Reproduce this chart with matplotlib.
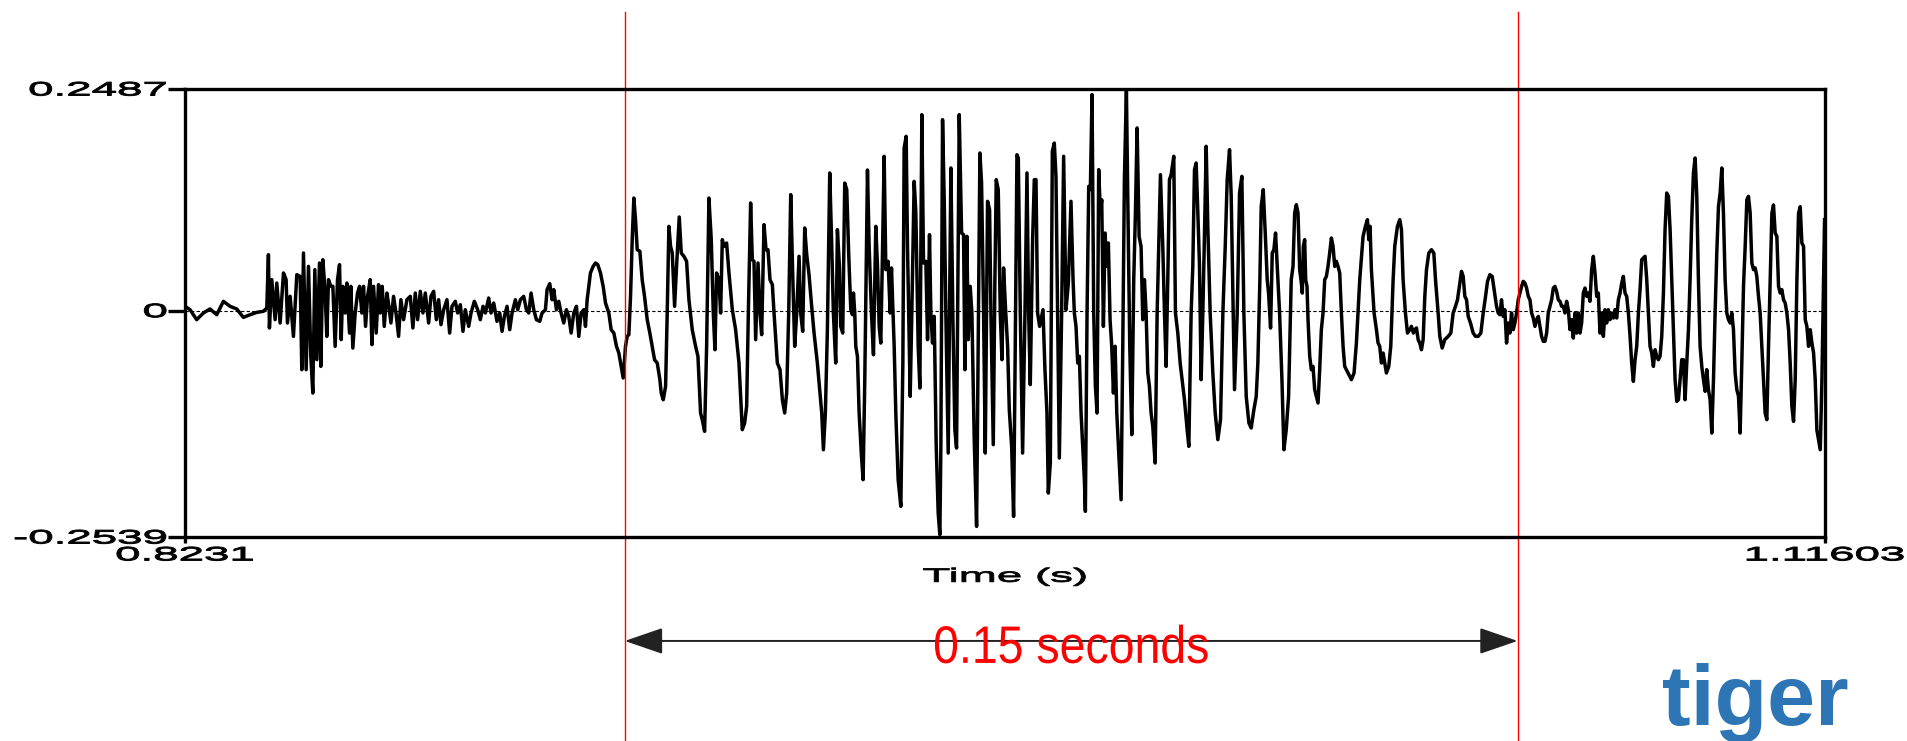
import numpy as np
import matplotlib
matplotlib.use("Agg")
import matplotlib.pyplot as plt
from matplotlib.patheffects import AbstractPathEffect
from matplotlib.transforms import Affine2D
from matplotlib.path import Path

### data : (time s, amplitude)

closure = [(0.82310, 0.0049), (0.82400, 0.0011), (0.82519, -0.0101), (0.82638, -0.0026), (0.82757, 0.0019),
           (0.82877, -0.0045), (0.82996, 0.0105), (0.83115, 0.0049), (0.83234, 0.0019), (0.83353, -0.0075),
           (0.83473, -0.0045), (0.83592, -0.0019), (0.83711, -0.0007), (0.83771, 0.0030)]

burst = [(0.83800, 0.0628), (0.83818, -0.0194), (0.83860, 0.0348), (0.83920, -0.0101), (0.83949, 0.0310),
         (0.84009, -0.0138), (0.84069, 0.0423), (0.84116, 0.0348), (0.84140, -0.0138), (0.84188, 0.0161),
         (0.84247, -0.0288), (0.84307, 0.0404), (0.84367, 0.0385), (0.84396, -0.0662), (0.84426, 0.0647),
         (0.84474, -0.0662), (0.84516, 0.0497), (0.84557, -0.0512), (0.84593, -0.0924), (0.84629, 0.0460),
         (0.84665, -0.0550), (0.84712, 0.0535), (0.84736, -0.0625), (0.84772, 0.0572), (0.84814, 0.0198),
         (0.84843, -0.0288), (0.84873, 0.0348), (0.84915, 0.0273), (0.84951, 0.0273), (0.84992, -0.0400),
         (0.85034, 0.0348), (0.85070, 0.0516), (0.85100, -0.0325), (0.85129, 0.0273), (0.85171, -0.0026),
         (0.85201, 0.0310), (0.85249, -0.0251), (0.85272, 0.0273), (0.85308, -0.0419), (0.85350, -0.0026),
         (0.85392, 0.0198), (0.85428, 0.0273), (0.85469, -0.0026), (0.85499, 0.0273), (0.85535, -0.0176),
         (0.85571, 0.0161), (0.85618, 0.0348), (0.85648, -0.0381), (0.85678, 0.0273), (0.85725, -0.0251),
         (0.85767, 0.0292), (0.85797, -0.0026), (0.85833, 0.0273), (0.85869, -0.0176), (0.85916, 0.0198),
         (0.85952, 0.0049), (0.85988, -0.0138), (0.86035, 0.0161), (0.86083, -0.0045), (0.86125, -0.0288),
         (0.86166, 0.0123), (0.86214, -0.0101), (0.86274, 0.0123)]

aspiration = [(0.86334, 0.0161), (0.86381, -0.0194), (0.86423, 0.0198), (0.86465, -0.0101), (0.86513, 0.0217),
              (0.86560, -0.0026), (0.86602, 0.0198), (0.86662, -0.0138), (0.86703, 0.0161), (0.86751, 0.0217),
              (0.86799, -0.0101), (0.86840, 0.0123), (0.86882, -0.0157), (0.86930, 0.0011), (0.86989, 0.0123),
              (0.87037, -0.0251), (0.87079, 0.0049), (0.87138, 0.0105), (0.87180, -0.0026), (0.87228, 0.0067),
              (0.87275, -0.0232), (0.87317, 0.0011), (0.87377, -0.0176), (0.87419, -0.0026), (0.87478, 0.0105),
              (0.87538, 0.0011), (0.87585, -0.0101), (0.87633, 0.0049), (0.87675, -0.0026), (0.87734, 0.0142),
              (0.87776, -0.0026), (0.87824, 0.0086), (0.87883, -0.0120), (0.87931, -0.0026), (0.87973, -0.0232),
              (0.88015, -0.0064), (0.88062, 0.0049), (0.88110, -0.0213), (0.88152, -0.0026), (0.88211, 0.0123),
              (0.88253, 0.0011), (0.88301, 0.0123), (0.88360, 0.0161), (0.88408, 0.0011), (0.88450, -0.0026),
              (0.88491, 0.0198), (0.88539, 0.0011), (0.88587, -0.0101), (0.88646, -0.0120), (0.88688, -0.0026),
              (0.88748, 0.0011), (0.88777, 0.0236), (0.88825, 0.0303), (0.88867, 0.0123), (0.88897, 0.0236),
              (0.88944, 0.0011), (0.88986, 0.0105), (0.89028, -0.0026), (0.89075, -0.0138), (0.89123, 0.0011),
              (0.89165, -0.0064), (0.89207, -0.0251), (0.89254, -0.0026), (0.89302, 0.0049), (0.89344, -0.0288),
              (0.89385, -0.0026), (0.89433, 0.0011), (0.89463, -0.0176), (0.89493, 0.0123)]

vowel_onset = [(0.89552, 0.0423), (0.89600, 0.0497), (0.89642, 0.0535), (0.89683, 0.0516), (0.89731, 0.0423),
               (0.89779, 0.0273), (0.89821, 0.0086), (0.89880, -0.0026), (0.89922, -0.0213), (0.89970, -0.0251),
               (0.90017, -0.0400), (0.90059, -0.0475), (0.90101, -0.0625), (0.90137, -0.0755), (0.90178, -0.0400),
               (0.90208, -0.0288), (0.90238, -0.0269), (0.90268, 0.0161), (0.90298, 0.0797), (0.90327, 0.1264),
               (0.90357, 0.1021), (0.90387, 0.0684), (0.90435, 0.0666), (0.90476, 0.0348), (0.90518, 0.0161),
               (0.90566, -0.0101), (0.90613, -0.0251), (0.90655, -0.0400), (0.90697, -0.0550), (0.90745, -0.0587),
               (0.90792, -0.0774), (0.90816, -0.0924), (0.90852, -0.0999), (0.90894, -0.0849), (0.90923, -0.0026),
               (0.90953, 0.0946), (0.90983, 0.0722), (0.91013, 0.0647), (0.91055, 0.0049), (0.91090, 0.0497),
               (0.91138, 0.1051), (0.91174, 0.0647), (0.91221, 0.0610), (0.91269, 0.0554), (0.91311, 0.0123),
               (0.91370, -0.0213), (0.91430, -0.0400), (0.91472, -0.0512), (0.91519, -0.1148), (0.91549, -0.1223),
               (0.91591, -0.1354), (0.91627, -0.0400), (0.91668, 0.1264), (0.91710, 0.0797), (0.91746, -0.0026),
               (0.91776, -0.0438), (0.91805, 0.0423), (0.91847, 0.0348), (0.91877, -0.0026), (0.91907, 0.0797),
               (0.91937, 0.0722), (0.91984, 0.0759), (0.92026, 0.0423), (0.92086, 0.0011), (0.92145, -0.0213),
               (0.92205, -0.0587), (0.92264, -0.1335), (0.92306, -0.1260), (0.92342, -0.1073), (0.92372, -0.0026),
               (0.92413, 0.1208), (0.92443, 0.0572), (0.92473, 0.0554), (0.92503, -0.0325), (0.92545, 0.0535),
               (0.92580, -0.0026), (0.92610, -0.0269), (0.92652, 0.0965), (0.92688, 0.0684), (0.92723, 0.0684),
               (0.92759, 0.0348), (0.92801, 0.0292), (0.92831, -0.0026), (0.92890, -0.0587), (0.92938, -0.0662),
               (0.92980, -0.0999), (0.93021, -0.1148), (0.93057, -0.0924), (0.93093, -0.0026), (0.93129, 0.1302),
               (0.93164, 0.0423), (0.93200, -0.0400), (0.93236, -0.0026), (0.93278, 0.0610), (0.93307, -0.0026),
               (0.93343, -0.0232), (0.93379, 0.0928), (0.93415, 0.0628), (0.93456, 0.0404), (0.93498, 0.0086),
               (0.93546, -0.0251), (0.93605, -0.0587), (0.93653, -0.0924), (0.93683, -0.1148), (0.93713, -0.1560),
               (0.93748, -0.1148), (0.93784, -0.0213), (0.93826, 0.1545), (0.93862, 0.0722), (0.93891, -0.0026),
               (0.93933, -0.0587), (0.93963, 0.0909), (0.93999, 0.0497), (0.94022, -0.0176), (0.94058, -0.0251),
               (0.94094, 0.1432), (0.94130, 0.1358), (0.94166, 0.0610)]

vowel_mid = [(0.94202, 0.0011), (0.94232, -0.0045), (0.94250, 0.0198), (0.94273, -0.0026), (0.94291, -0.0400),
             (0.94321, -0.0512), (0.94351, -0.1148), (0.94393, -0.1634), (0.94422, -0.1896), (0.94452, -0.0774),
             (0.94500, 0.1578), (0.94530, 0.0722), (0.94571, -0.0026), (0.94607, -0.0494), (0.94649, 0.0946),
             (0.94679, 0.0497), (0.94709, -0.0176), (0.94738, -0.0363), (0.94768, 0.0647), (0.94798, 0.1732),
             (0.94828, 0.0460), (0.94869, 0.0554), (0.94905, -0.0026), (0.94929, 0.0479), (0.94977, -0.0400),
             (0.95006, -0.1148), (0.95048, -0.1896), (0.95096, -0.2195), (0.95132, -0.0587), (0.95155, 0.1825),
             (0.95191, 0.1956), (0.95215, 0.0722), (0.95263, -0.0961), (0.95292, -0.0026), (0.95334, 0.1451),
             (0.95364, 0.1096), (0.95406, -0.0400), (0.95436, -0.0868), (0.95471, 0.2199), (0.95501, 0.0535),
             (0.95543, 0.0554), (0.95573, -0.0325), (0.95608, 0.0853), (0.95632, -0.0026), (0.95662, -0.0363),
             (0.95692, -0.0064), (0.95728, -0.1522), (0.95763, -0.2270), (0.95793, -0.2513), (0.95811, -0.1522),
             (0.95841, 0.2143), (0.95871, 0.1245), (0.95900, -0.0026), (0.95942, -0.1597), (0.95990, 0.1601),
             (0.96026, -0.0101), (0.96061, -0.1335), (0.96091, -0.1541), (0.96139, 0.2199), (0.96181, 0.0871),
             (0.96216, 0.0853), (0.96240, -0.0662), (0.96276, 0.0834), (0.96300, -0.0325), (0.96335, 0.0273),
             (0.96365, -0.0026), (0.96407, -0.1447), (0.96449, -0.2420), (0.96479, -0.0251), (0.96508, 0.1769),
             (0.96538, 0.1432), (0.96574, -0.0026), (0.96604, -0.1597), (0.96645, 0.1227), (0.96681, 0.1133),
             (0.96705, -0.0026), (0.96747, -0.1503), (0.96776, 0.0348), (0.96800, 0.1470), (0.96836, 0.1358),
             (0.96872, -0.0026), (0.96902, -0.0550), (0.96931, 0.0479), (0.96967, 0.0011), (0.97003, -0.0400),
             (0.97033, -0.1111), (0.97075, -0.1522), (0.97110, -0.2308), (0.97134, -0.0774), (0.97170, 0.1750),
             (0.97194, 0.1713), (0.97230, -0.0026), (0.97271, -0.1597), (0.97313, -0.0026), (0.97349, 0.1545),
             (0.97379, -0.0026), (0.97408, -0.0830), (0.97450, 0.0797), (0.97480, 0.1470), (0.97510, 0.1470),
             (0.97539, -0.0026), (0.97575, -0.0176), (0.97599, -0.0101), (0.97635, 0.0011), (0.97670, -0.0662),
             (0.97706, -0.1148), (0.97730, -0.2046), (0.97766, -0.1709), (0.97802, 0.1788), (0.97837, 0.1881),
             (0.97867, 0.1507), (0.97897, -0.0026), (0.97927, -0.1653), (0.97969, 0.0011), (0.98004, 0.1732),
             (0.98046, 0.0011), (0.98088, 0.0310), (0.98135, 0.1227)]

vowel_late = [(0.98172, 0.0348), (0.98195, -0.0026), (0.98225, -0.0176), (0.98255, -0.0587), (0.98285, -0.0512),
              (0.98315, -0.1148), (0.98344, -0.1522), (0.98374, -0.1896), (0.98392, -0.2251), (0.98422, -0.0026),
              (0.98452, 0.1395), (0.98481, 0.1358), (0.98511, 0.2424), (0.98541, -0.0026), (0.98571, -0.0849),
              (0.98601, -0.1148), (0.98630, 0.1582), (0.98660, 0.1096), (0.98684, 0.1245), (0.98714, -0.0176),
              (0.98744, 0.0871), (0.98774, 0.0497), (0.98803, 0.0759), (0.98833, -0.0101), (0.98863, -0.0400),
              (0.98893, -0.0924), (0.98923, -0.0400), (0.98953, -0.1148), (0.98982, -0.1522), (0.99030, -0.2121),
              (0.99060, -0.0400), (0.99089, 0.1470), (0.99125, 0.2480), (0.99149, 0.1283), (0.99185, -0.0400),
              (0.99221, -0.1391), (0.99256, 0.0348), (0.99286, 0.1096), (0.99316, 0.2050), (0.99352, 0.0834),
              (0.99387, 0.0718), (0.99417, -0.0101), (0.99447, 0.0348), (0.99477, -0.0026), (0.99507, -0.0699),
              (0.99536, -0.0849), (0.99566, -0.1148), (0.99596, -0.1298), (0.99638, -0.1709), (0.99674, -0.0026),
              (0.99733, 0.1526), (0.99775, 0.0718), (0.99805, -0.0026), (0.99834, -0.0625), (0.99864, 0.0348),
              (0.99894, 0.1470), (0.99924, 0.1526), (0.99971, 0.1732), (1.00001, -0.0026), (1.00043, -0.0251),
              (1.00085, -0.0587), (1.00120, -0.0774), (1.00162, -0.0999), (1.00210, -0.1335), (1.00240, -0.1522),
              (1.00281, -0.0026), (1.00311, 0.0497), (1.00341, 0.1582), (1.00371, 0.1657), (1.00401, 0.1096),
              (1.00430, 0.0516), (1.00460, -0.0774), (1.00490, -0.0026), (1.00520, 0.0871), (1.00550, 0.1844),
              (1.00579, 0.0946), (1.00621, -0.0026), (1.00669, -0.0699), (1.00711, -0.1148), (1.00758, -0.1447),
              (1.00806, -0.1223), (1.00848, -0.0026), (1.00890, 0.0718), (1.00925, 0.1470), (1.00967, 0.1806),
              (1.00997, 0.1283), (1.01056, -0.0886), (1.01104, -0.0026), (1.01146, 0.1320), (1.01187, 0.1507),
              (1.01223, -0.0026), (1.01265, -0.0961), (1.01313, -0.1260), (1.01354, -0.1316), (1.01402, -0.1111),
              (1.01444, -0.0961), (1.01473, -0.0587), (1.01509, 0.0348), (1.01533, 0.1171), (1.01569, 0.1358),
              (1.01605, 0.0871), (1.01640, 0.0348), (1.01664, 0.0198), (1.01700, -0.0194), (1.01730, 0.0647),
              (1.01759, 0.0684), (1.01789, 0.0871), (1.01819, 0.0497), (1.01861, -0.0026), (1.01903, -0.0774),
              (1.01938, -0.1560), (1.01980, -0.1335), (1.02022, -0.0961), (1.02069, 0.0348)]

vowel_decay = [(1.02101, 0.0497), (1.02130, 0.1096), (1.02160, 0.1189), (1.02190, 0.1096), (1.02220, 0.0460),
               (1.02250, 0.0310), (1.02267, 0.0198), (1.02285, 0.0722), (1.02309, 0.0797), (1.02327, 0.0348),
               (1.02351, 0.0273), (1.02369, -0.0101), (1.02399, -0.0512), (1.02428, -0.0662), (1.02458, -0.0625),
               (1.02488, -0.0886), (1.02518, -0.0961), (1.02548, -0.1036), (1.02577, -0.0662), (1.02607, -0.0213),
               (1.02637, -0.0026), (1.02667, 0.0348), (1.02697, 0.0385), (1.02726, 0.0497), (1.02756, 0.0647),
               (1.02786, 0.0815), (1.02816, 0.0722), (1.02846, 0.0497), (1.02875, 0.0554), (1.02905, 0.0497),
               (1.02935, 0.0423), (1.02965, -0.0026), (1.02995, -0.0400), (1.03024, -0.0625), (1.03084, -0.0699),
               (1.03144, -0.0774), (1.03191, -0.0699), (1.03233, -0.0363), (1.03293, 0.0348), (1.03352, 0.0834),
               (1.03394, 0.0946), (1.03430, 0.1021), (1.03454, 0.0797), (1.03477, 0.0946), (1.03501, 0.0460),
               (1.03549, -0.0026), (1.03591, -0.0213), (1.03620, -0.0363), (1.03650, -0.0400), (1.03680, -0.0587),
               (1.03710, -0.0475), (1.03740, -0.0587), (1.03769, -0.0699), (1.03811, -0.0625), (1.03847, -0.0400),
               (1.03889, 0.0348), (1.03918, 0.0722), (1.03966, 0.0946), (1.04008, 0.1021), (1.04038, 0.0909),
               (1.04067, 0.0348), (1.04109, -0.0026), (1.04145, -0.0251), (1.04187, -0.0213), (1.04216, -0.0176),
               (1.04252, -0.0251), (1.04276, -0.0213), (1.04306, -0.0194), (1.04336, -0.0325), (1.04365, -0.0363),
               (1.04395, -0.0438), (1.04425, -0.0325), (1.04455, 0.0161), (1.04485, 0.0460), (1.04526, 0.0647),
               (1.04574, 0.0684), (1.04616, 0.0647), (1.04646, 0.0348), (1.04693, -0.0026), (1.04723, -0.0288),
               (1.04765, -0.0419), (1.04812, -0.0325), (1.04872, -0.0288), (1.04920, -0.0251), (1.04961, -0.0026),
               (1.05003, 0.0049), (1.05039, 0.0123), (1.05081, 0.0310), (1.05110, 0.0441), (1.05140, 0.0385),
               (1.05170, 0.0161), (1.05200, 0.0123), (1.05230, -0.0064), (1.05271, -0.0138), (1.05319, -0.0251),
               (1.05361, -0.0288), (1.05408, -0.0288), (1.05456, -0.0251), (1.05498, -0.0026), (1.05540, 0.0161),
               (1.05575, 0.0329), (1.05617, 0.0404), (1.05659, 0.0385), (1.05694, 0.0236), (1.05736, 0.0049),
               (1.05766, -0.0026), (1.05796, -0.0045), (1.05825, 0.0123), (1.05855, -0.0064), (1.05885, 0.0011),
               (1.05915, -0.0363), (1.05945, -0.0138), (1.05975, -0.0251), (1.06004, -0.0026)]

next_syll = [(1.06035, -0.0213), (1.06064, -0.0138), (1.06094, -0.0026), (1.06124, 0.0123), (1.06154, 0.0198),
             (1.06184, 0.0273), (1.06213, 0.0329), (1.06243, 0.0310), (1.06273, 0.0254), (1.06303, 0.0161),
             (1.06333, 0.0123), (1.06362, -0.0026), (1.06392, -0.0082), (1.06422, -0.0176), (1.06452, -0.0101),
             (1.06482, -0.0064), (1.06511, -0.0176), (1.06541, -0.0288), (1.06571, -0.0344), (1.06601, -0.0344),
             (1.06631, -0.0251), (1.06660, -0.0026), (1.06690, 0.0049), (1.06720, 0.0123), (1.06750, 0.0254),
             (1.06780, 0.0273), (1.06809, 0.0217), (1.06839, 0.0123), (1.06869, 0.0105), (1.06899, 0.0049),
             (1.06929, 0.0049), (1.06958, -0.0026), (1.06988, 0.0105), (1.07018, 0.0011), (1.07048, -0.0213),
             (1.07078, -0.0101), (1.07107, -0.0307), (1.07137, -0.0026), (1.07167, -0.0251), (1.07197, -0.0026),
             (1.07227, -0.0251), (1.07256, -0.0138), (1.07286, 0.0198), (1.07316, 0.0254), (1.07346, 0.0161),
             (1.07376, 0.0198), (1.07405, 0.0105), (1.07435, 0.0460), (1.07465, 0.0610), (1.07495, 0.0423),
             (1.07525, 0.0161), (1.07554, 0.0198), (1.07584, -0.0251), (1.07614, -0.0026), (1.07644, -0.0288),
             (1.07674, 0.0011), (1.07703, -0.0138), (1.07733, 0.0011), (1.07763, -0.0101), (1.07793, -0.0026),
             (1.07823, -0.0082), (1.07852, 0.0011), (1.07882, -0.0082), (1.07912, 0.0123), (1.07942, 0.0198),
             (1.07972, 0.0310), (1.08001, 0.0385), (1.08031, 0.0198), (1.08061, 0.0161), (1.08091, -0.0026),
             (1.08121, -0.0288), (1.08150, -0.0587), (1.08180, -0.0793), (1.08210, -0.0550), (1.08240, -0.0400),
             (1.08270, -0.0026), (1.08299, 0.0236), (1.08329, 0.0572), (1.08359, 0.0591), (1.08389, 0.0610),
             (1.08419, 0.0348), (1.08448, -0.0026), (1.08478, -0.0400), (1.08508, -0.0475), (1.08538, -0.0625),
             (1.08568, -0.0438), (1.08597, -0.0512), (1.08627, -0.0550), (1.08657, -0.0512), (1.08687, -0.0288),
             (1.08717, 0.0198), (1.08746, 0.0909), (1.08776, 0.1320), (1.08806, 0.1283), (1.08836, 0.0909),
             (1.08866, 0.0348), (1.08895, -0.0213), (1.08925, -0.0774), (1.08955, -0.1017), (1.08985, -0.0999),
             (1.09015, -0.0774), (1.09044, -0.0550), (1.09074, -0.0550), (1.09104, -0.0999), (1.09134, -0.0587),
             (1.09164, -0.0213), (1.09193, 0.0348), (1.09223, 0.1021), (1.09253, 0.1545), (1.09283, 0.1713),
             (1.09313, 0.1283), (1.09342, 0.0348), (1.09372, -0.0400), (1.09402, -0.0625), (1.09432, -0.0774),
             (1.09462, -0.0905), (1.09491, -0.0662), (1.09521, -0.0886), (1.09551, -0.0999), (1.09581, -0.1373),
             (1.09611, -0.0774), (1.09640, -0.0026), (1.09670, 0.0647), (1.09700, 0.1167), (1.09730, 0.1320),
             (1.09760, 0.1601), (1.09789, 0.1092), (1.09819, 0.0348), (1.09849, -0.0026), (1.09879, -0.0101),
             (1.09909, -0.0138), (1.09938, -0.0026), (1.09968, -0.0213), (1.09998, -0.0699), (1.10028, -0.0886),
             (1.10058, -0.0961), (1.10087, -0.1373), (1.10117, -0.0587), (1.10147, 0.0273), (1.10177, 0.0718),
             (1.10207, 0.1245), (1.10236, 0.1283), (1.10266, 0.1096), (1.10296, 0.0535), (1.10326, 0.0460),
             (1.10356, 0.0479), (1.10385, 0.0385), (1.10415, 0.0161), (1.10445, -0.0026), (1.10475, -0.0400),
             (1.10505, -0.0774), (1.10534, -0.1148), (1.10564, -0.1223), (1.10594, -0.0400), (1.10624, 0.0344),
             (1.10654, 0.1092), (1.10683, 0.1186), (1.10713, 0.0871), (1.10743, 0.0834), (1.10773, 0.0273),
             (1.10803, 0.0198), (1.10832, 0.0236), (1.10862, 0.0123), (1.10892, 0.0086), (1.10922, -0.0026),
             (1.10952, -0.0213), (1.10981, -0.0587), (1.11011, -0.1073), (1.11041, -0.1242), (1.11071, -0.0774),
             (1.11101, 0.0344), (1.11130, 0.1092), (1.11160, 0.1167), (1.11190, 0.0759), (1.11220, 0.0722),
             (1.11250, -0.0101), (1.11279, -0.0176), (1.11309, -0.0400), (1.11339, -0.0213), (1.11369, -0.0363),
             (1.11399, -0.0475), (1.11428, -0.0774), (1.11458, -0.1339), (1.11488, -0.1451), (1.11518, -0.1560),
             (1.11548, -0.0774), (1.11577, 0.0344), (1.11595, 0.1021)]

t_start, t_end = 0.8231, 1.11603
a_min, a_max = -0.2539, 0.2487
marks = [0.90166, 1.06112]          # the two red cursors
span_label = "0.15 seconds"
word = "tiger"


### text stretched sideways like the exported praat picture

class Stretch(AbstractPathEffect):
    def __init__(self, sx, anchor=0.5, stroke=0.0):
        super().__init__()
        self.sx = sx
        self.anchor = anchor
        self.stroke = stroke

    def draw_path(self, renderer, gc, tpath, affine, rgbFace=None):
        xs = tpath.vertices[:, 0]
        if tpath.codes is not None:
            xs = xs[tpath.codes != Path.CLOSEPOLY]
        xa = xs.min() + self.anchor * (xs.max() - xs.min())
        tr = Affine2D().translate(-xa, 0).scale(self.sx, 1).translate(xa, 0) + affine
        gc0 = renderer.new_gc()
        gc0.copy_properties(gc)
        if self.stroke > 0:
            gc0.set_linewidth(self.stroke)
            gc0.set_foreground(rgbFace)
        renderer.draw_path(gc0, tpath, tr, rgbFace)
        gc0.restore()


plt.rcParams['font.family'] = ['Liberation Sans', 'DejaVu Sans']

segs = [closure, burst, aspiration, vowel_onset, vowel_mid, vowel_late, vowel_decay, next_syll]
t, a = np.array([p for s in segs for p in s]).T

fig = plt.figure(figsize=(19.08, 7.41), dpi=100)
ax = fig.add_axes([0.09696, 0.27530, 0.85954, 0.60459])

ax.axhline(0, color='black', lw=0.8, ls=(0, (3, 2)))
ax.plot(t, a, color='black', lw=2.5, solid_joinstyle='round')

ax.set_xlim(t_start, t_end)
ax.set_ylim(a_min, a_max)
for sp in ax.spines.values():
    sp.set_linewidth(2.4)

ax.set_yticks([a_min, 0, a_max], ['%g' % a_min, '0', '%g' % a_max])
ax.set_xticks([t_start, t_end], ['%g' % t_start, '%g' % t_end])
ax.tick_params(axis='y', length=12, width=2.4, pad=1, labelsize=14)
ax.tick_params(axis='x', length=4.5, width=2.4, pad=3, labelsize=14)
for lab in ax.get_yticklabels():
    lab.set_path_effects([Stretch(2.35, 1.0, 0.7)])
for lab in ax.get_xticklabels():
    lab.set_path_effects([Stretch(2.35, 0.5, 0.7)])

ax.set_xlabel("Time (s)", fontsize=14, va='center', path_effects=[Stretch(2.35, 0.5, 0.6)])
ax.xaxis.set_label_coords(0.5, -0.09)

# red cursors running past the frame
for m in marks:
    ax.axvline(m, ymin=-0.456, ymax=1.172, color='red', lw=1.0, clip_on=False)

xt = ax.get_xaxis_transform()
ax.annotate('', xy=(marks[1], -0.232), xytext=(marks[0], -0.232), xycoords=xt, textcoords=xt,
            arrowprops=dict(arrowstyle='<|-|>,head_length=1.6,head_width=0.55', mutation_scale=15,
                            color='#222222', lw=1.4, shrinkA=0, shrinkB=0))
ax.text(np.mean(marks), -0.281, span_label, transform=xt, ha='center', va='baseline',
        color='red', fontsize=38, path_effects=[Stretch(0.88, 0.5)])

fig.text(0.8711, 0.0216, word, fontsize=62, weight='bold', color='#2E75B6', va='baseline')

fig.savefig("out.png", dpi=100)
